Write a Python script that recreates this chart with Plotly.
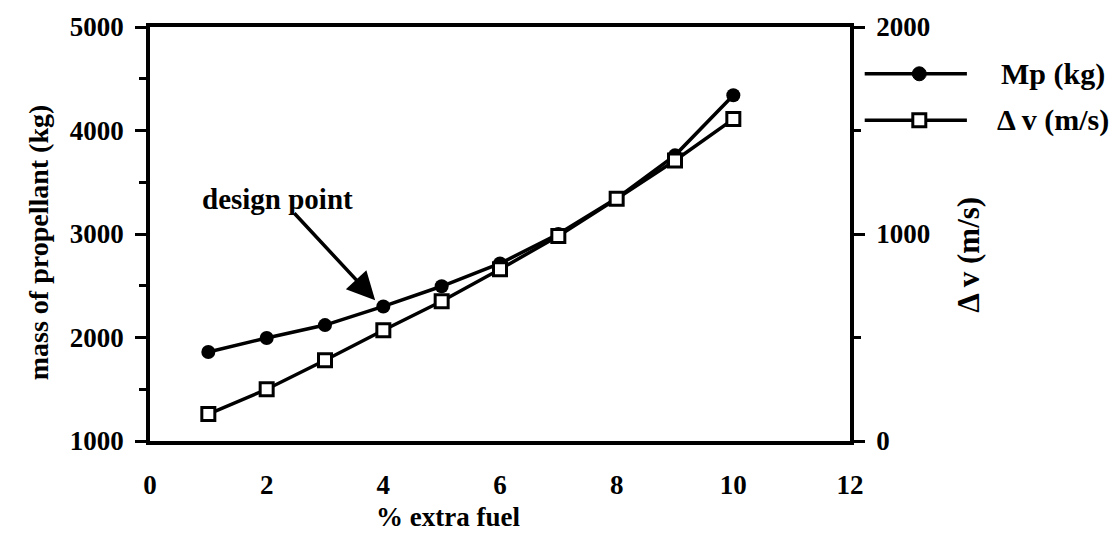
import plotly.graph_objects as go

# ---- data ----
extra_fuel = [1, 2, 3, 4, 5, 6, 7, 8, 9, 10]
mass_propellant = [1860, 1995, 2120, 2300, 2495, 2715, 3000, 3345, 3760, 4340]
delta_v = [130, 250, 390, 535, 675, 830, 990, 1170, 1355, 1555]

x_ticks = [0, 2, 4, 6, 8, 10, 12]
left_ticks = [1000, 2000, 3000, 4000, 5000]
right_ticks = [0, 1000, 2000]

series_names = ["Mp (kg)", "\u0394 v (m/s)"]

FONT = "Liberation Serif"
INK = "black"

fig = go.Figure()
fig.add_trace(go.Scatter(
    x=extra_fuel, y=mass_propellant, name=series_names[0], yaxis="y",
    mode="lines+markers", line=dict(color=INK, width=3.5),
    marker=dict(symbol="circle", size=14, color=INK),
    showlegend=False,
))
fig.add_trace(go.Scatter(
    x=extra_fuel, y=delta_v, name=series_names[1], yaxis="y2",
    mode="lines+markers", line=dict(color=INK, width=3.5),
    marker=dict(symbol="square", size=13, color="white",
                line=dict(color=INK, width=3)),
    showlegend=False,
))

tickfont = dict(family=FONT, size=27, color=INK, weight="bold")

fig.update_layout(
    width=1118, height=533,
    margin=dict(l=150, r=268, t=20, b=92),
    paper_bgcolor="white", plot_bgcolor="white",
    font=dict(family=FONT, color=INK, weight="bold"),
    xaxis=dict(
        range=[0, 12], tickvals=x_ticks, ticks="", showgrid=False,
        zeroline=False, showline=True, linecolor=INK, linewidth=3.5,
        mirror=True, tickfont=tickfont, ticklabelstandoff=17,
    ),
    yaxis=dict(
        range=[1000, 5000], tickvals=left_ticks, ticks="outside",
        ticklen=11, tickwidth=3, tickcolor=INK, showgrid=False,
        zeroline=False, showline=True, linecolor=INK, linewidth=3.5,
        tickfont=tickfont, ticklabelstandoff=6,
        minor=dict(dtick=500, ticks="outside", ticklen=7, tickwidth=3,
                   tickcolor=INK, showgrid=False),
    ),
    yaxis2=dict(
        range=[0, 2000], tickvals=right_ticks, ticks="outside",
        ticklen=11, tickwidth=3, tickcolor=INK, showgrid=False,
        zeroline=False, showline=True, linecolor=INK, linewidth=3.5,
        overlaying="y", side="right", tickfont=tickfont,
        ticklabelstandoff=6,
        minor=dict(dtick=500, ticks="outside", ticklen=7, tickwidth=3,
                   tickcolor=INK, showgrid=False),
    ),
)

# axis titles
fig.add_annotation(text="% extra fuel", xref="paper", yref="paper",
                   x=0.425, y=-0.183, yanchor="middle", showarrow=False,
                   font=dict(family=FONT, size=27, color=INK, weight="bold"))
fig.add_annotation(text="mass of propellant (kg)", xref="paper", yref="paper",
                   x=-0.16, y=0.48, textangle=-90, showarrow=False,
                   xanchor="center", yanchor="middle",
                   font=dict(family=FONT, size=28, color=INK, weight="bold"))
fig.add_annotation(text="\u0394 v (m/s)", xref="paper", yref="paper",
                   x=1.17, y=0.45, textangle=-90, showarrow=False,
                   xanchor="center", yanchor="middle",
                   font=dict(family=FONT, size=31, color=INK, weight="bold"))

# design point label and arrow
fig.add_annotation(text="design point", x=2.19, y=3340, xref="x", yref="y",
                   showarrow=False,
                   font=dict(family=FONT, size=29, color=INK, weight="bold"))
fig.add_annotation(text="", x=3.86, y=2360, ax=2.45, ay=3215,
                   xref="x", yref="y", axref="x", ayref="y",
                   showarrow=True, arrowhead=2, arrowsize=1.6,
                   arrowwidth=3.5, arrowcolor=INK)

# hand-drawn style legend (outside plot, right side)
legend_rows = [0.887, 0.775]
line_x0, line_x1, mark_x, text_x = 1.021, 1.167, 1.099, 1.290
for row_y in legend_rows:
    fig.add_shape(type="line", xref="paper", yref="paper",
                  x0=line_x0, x1=line_x1, y0=row_y, y1=row_y,
                  line=dict(color=INK, width=3.5))
fig.add_shape(type="circle", xref="paper", yref="paper",
              xsizemode="pixel", ysizemode="pixel",
              xanchor=mark_x, yanchor=legend_rows[0],
              x0=-7, x1=7, y0=-7, y1=7,
              fillcolor=INK, line=dict(color=INK, width=1))
fig.add_shape(type="rect", xref="paper", yref="paper",
              xsizemode="pixel", ysizemode="pixel",
              xanchor=mark_x, yanchor=legend_rows[1],
              x0=-6.5, x1=6.5, y0=-6.5, y1=6.5,
              fillcolor="white", line=dict(color=INK, width=3))
for name, row_y in zip(series_names, legend_rows):
    fig.add_annotation(text=name, xref="paper", yref="paper",
                       x=text_x, y=row_y, showarrow=False,
                       xanchor="center", yanchor="middle",
                       font=dict(family=FONT, size=30, color=INK, weight="bold"))

fig.write_html("out.html")
